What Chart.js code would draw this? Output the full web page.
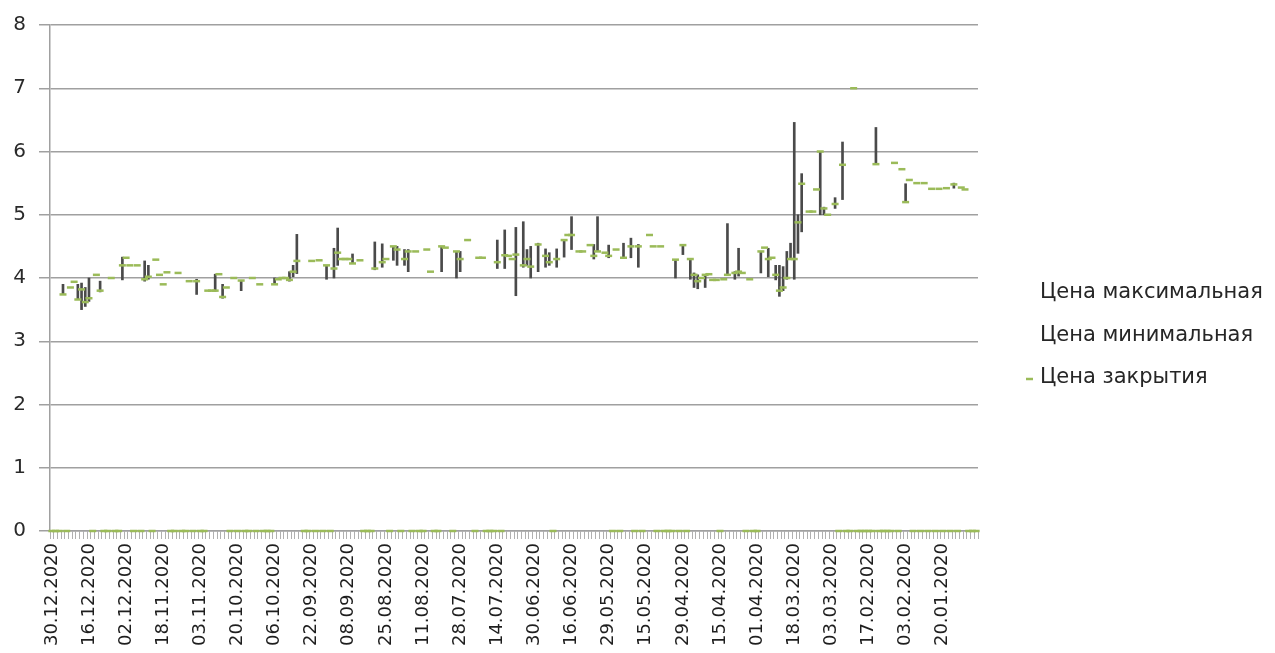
<!DOCTYPE html>
<html>
<head>
<meta charset="utf-8">
<script src="https://cdn.jsdelivr.net/npm/chart.js@4.4.1/dist/chart.umd.min.js"></script>
<style>
  html, body { margin: 0; padding: 0; background: #fff; }
</style>
</head>
<body>
<canvas id="stockChart" width="1275" height="653"></canvas>
<script>
const _ = null;

// trading days, newest first (as on the original axis)
const dates = [
  '30.12.2020','29.12.2020','28.12.2020','25.12.2020','24.12.2020','23.12.2020','22.12.2020','21.12.2020','18.12.2020','17.12.2020',
  '16.12.2020','15.12.2020','14.12.2020','11.12.2020','10.12.2020','09.12.2020','08.12.2020','07.12.2020','04.12.2020','03.12.2020',
  '02.12.2020','01.12.2020','30.11.2020','27.11.2020','26.11.2020','25.11.2020','24.11.2020','23.11.2020','20.11.2020','19.11.2020',
  '18.11.2020','17.11.2020','16.11.2020','13.11.2020','12.11.2020','11.11.2020','10.11.2020','09.11.2020','06.11.2020','05.11.2020',
  '03.11.2020','02.11.2020','30.10.2020','29.10.2020','28.10.2020','27.10.2020','26.10.2020','23.10.2020','22.10.2020','21.10.2020',
  '20.10.2020','19.10.2020','16.10.2020','15.10.2020','14.10.2020','13.10.2020','12.10.2020','09.10.2020','08.10.2020','07.10.2020',
  '06.10.2020','05.10.2020','02.10.2020','01.10.2020','30.09.2020','29.09.2020','28.09.2020','25.09.2020','24.09.2020','23.09.2020',
  '22.09.2020','21.09.2020','18.09.2020','17.09.2020','16.09.2020','15.09.2020','14.09.2020','11.09.2020','10.09.2020','09.09.2020',
  '08.09.2020','07.09.2020','04.09.2020','03.09.2020','02.09.2020','01.09.2020','31.08.2020','28.08.2020','27.08.2020','26.08.2020',
  '25.08.2020','24.08.2020','21.08.2020','20.08.2020','19.08.2020','18.08.2020','17.08.2020','14.08.2020','13.08.2020','12.08.2020',
  '11.08.2020','10.08.2020','07.08.2020','06.08.2020','05.08.2020','04.08.2020','03.08.2020','31.07.2020','30.07.2020','29.07.2020',
  '28.07.2020','27.07.2020','24.07.2020','23.07.2020','22.07.2020','21.07.2020','20.07.2020','17.07.2020','16.07.2020','15.07.2020',
  '14.07.2020','13.07.2020','10.07.2020','09.07.2020','08.07.2020','07.07.2020','06.07.2020','03.07.2020','02.07.2020','01.07.2020',
  '30.06.2020','29.06.2020','26.06.2020','25.06.2020','24.06.2020','23.06.2020','22.06.2020','19.06.2020','18.06.2020','17.06.2020',
  '16.06.2020','15.06.2020','11.06.2020','10.06.2020','09.06.2020','08.06.2020','05.06.2020','04.06.2020','03.06.2020','02.06.2020',
  '29.05.2020','28.05.2020','27.05.2020','26.05.2020','25.05.2020','22.05.2020','21.05.2020','20.05.2020','19.05.2020','18.05.2020',
  '15.05.2020','14.05.2020','13.05.2020','12.05.2020','08.05.2020','07.05.2020','06.05.2020','05.05.2020','04.05.2020','30.04.2020',
  '29.04.2020','28.04.2020','27.04.2020','24.04.2020','23.04.2020','22.04.2020','21.04.2020','20.04.2020','17.04.2020','16.04.2020',
  '15.04.2020','14.04.2020','13.04.2020','10.04.2020','09.04.2020','08.04.2020','07.04.2020','06.04.2020','03.04.2020','02.04.2020',
  '01.04.2020','31.03.2020','30.03.2020','27.03.2020','26.03.2020','25.03.2020','24.03.2020','23.03.2020','20.03.2020','19.03.2020',
  '18.03.2020','17.03.2020','16.03.2020','13.03.2020','12.03.2020','11.03.2020','10.03.2020','06.03.2020','05.03.2020','04.03.2020',
  '03.03.2020','02.03.2020','28.02.2020','27.02.2020','26.02.2020','25.02.2020','21.02.2020','20.02.2020','19.02.2020','18.02.2020',
  '17.02.2020','14.02.2020','13.02.2020','12.02.2020','11.02.2020','10.02.2020','07.02.2020','06.02.2020','05.02.2020','04.02.2020',
  '03.02.2020','31.01.2020','30.01.2020','29.01.2020','28.01.2020','27.01.2020','24.01.2020','23.01.2020','22.01.2020','21.01.2020',
  '20.01.2020','17.01.2020','16.01.2020','15.01.2020','14.01.2020','13.01.2020','10.01.2020','09.01.2020','08.01.2020','06.01.2020'
];

const high = [
  _,_,_,3.9,_,_,_,3.9,3.92,3.85,
  4.0,_,_,3.95,_,_,_,_,_,4.33,
  _,_,_,_,_,4.27,4.2,_,_,_,
  _,_,_,_,_,_,_,_,_,3.98,
  _,_,_,_,4.06,_,3.9,_,_,_,
  _,3.96,_,_,_,_,_,_,_,_,
  4.0,_,_,_,4.1,4.2,4.69,_,_,_,
  _,_,_,_,4.2,_,4.47,4.79,_,_,
  _,4.38,_,_,_,_,_,4.57,_,4.54,
  _,_,4.5,4.5,_,4.45,4.45,_,_,_,
  _,_,_,_,_,4.5,_,_,_,4.42,
  4.42,_,_,_,_,_,_,_,_,_,
  4.6,_,4.76,_,_,4.8,_,4.89,4.45,4.5,
  _,4.55,_,4.46,4.4,_,4.46,_,4.6,_,
  4.97,_,_,_,_,_,4.53,4.97,_,_,
  4.52,_,_,_,4.55,_,4.63,_,4.53,_,
  _,_,_,_,_,_,_,_,4.29,_,
  4.52,_,4.3,4.08,4.05,_,4.05,_,_,_,
  _,_,4.86,_,4.1,4.47,_,_,_,_,
  _,4.42,_,4.47,_,4.2,4.2,4.18,4.42,4.55,
  6.46,5.0,5.65,_,_,_,_,6.0,5.12,_,
  _,5.27,_,6.15,_,_,_,_,_,_,
  _,_,6.38,_,_,_,_,_,_,_,
  5.49,_,_,_,_,_,_,_,_,_,
  _,_,_,5.5,_,_,_,_,_,_
];

const low = [
  _,_,_,3.74,_,_,_,3.66,3.5,3.55,
  3.63,_,_,3.78,_,_,_,_,_,3.97,
  _,_,_,_,_,3.95,3.98,_,_,_,
  _,_,_,_,_,_,_,_,_,3.74,
  _,_,_,_,3.79,_,3.68,_,_,_,
  _,3.8,_,_,_,_,_,_,_,_,
  3.9,_,_,_,3.95,4.02,4.07,_,_,_,
  _,_,_,_,3.98,_,4.0,4.2,_,_,
  _,4.23,_,_,_,_,_,4.13,_,4.17,
  _,_,4.28,4.2,_,4.2,4.1,_,_,_,
  _,_,_,_,_,4.1,_,_,_,4.0,
  4.1,_,_,_,_,_,_,_,_,_,
  4.15,_,4.15,_,_,3.72,_,4.17,4.2,4.0,
  _,4.1,_,4.17,4.2,_,4.17,_,4.33,_,
  4.45,_,_,_,_,_,4.3,4.42,_,_,
  4.32,_,_,_,4.32,_,4.32,_,4.17,_,
  _,_,_,_,_,_,_,_,4.0,_,
  4.37,_,3.98,3.85,3.83,_,3.85,_,_,_,
  _,_,4.05,_,3.98,4.03,_,_,_,_,
  _,4.08,_,4.02,_,3.97,3.71,3.8,3.98,4.3,
  3.98,4.39,4.73,_,_,_,_,5.0,5.0,_,
  _,5.1,_,5.24,_,_,_,_,_,_,
  _,_,5.8,_,_,_,_,_,_,_,
  5.2,_,_,_,_,_,_,_,_,_,
  _,_,_,5.42,_,_,_,_,_,_
];

const close = [
  0,0,0,3.74,0,3.85,3.94,3.66,3.82,3.62,
  3.68,0,4.05,3.8,0,0,4.0,0,0,4.2,
  4.32,4.2,0,4.2,0,3.98,4.02,0,4.29,4.05,
  3.9,4.09,0,0,4.08,0,0,3.95,0,3.95,
  0,0,3.8,3.8,3.8,4.06,3.7,3.85,0,4.0,
  0,3.96,0,0,4.0,0,3.9,0,0,0,
  3.9,3.98,4.0,4.0,3.97,4.1,4.27,_,0,0,
  4.27,0,4.28,0,4.2,0,4.15,4.4,4.3,4.3,
  4.3,4.23,_,4.28,0,0,0,4.15,_,4.25,
  4.3,0,4.5,4.45,0,4.3,4.42,0,4.42,0,
  0,4.45,4.1,0,0,4.5,4.48,_,0,4.42,
  4.3,_,4.6,_,0,4.32,4.32,0,0,0,
  4.25,0,4.36,4.35,4.3,4.37,_,4.2,4.3,4.18,
  _,4.53,_,4.35,4.25,0,4.3,_,4.6,4.68,
  4.68,_,4.42,4.42,_,4.52,4.35,4.42,_,4.4,
  4.35,0,4.45,0,4.32,_,4.5,0,4.5,0,
  _,4.68,4.5,0,4.5,0,0,0,4.29,0,
  4.52,0,4.3,4.05,3.95,4.0,4.05,4.06,3.97,3.97,
  0,3.98,4.05,_,4.08,4.1,4.08,0,3.98,0,
  0,4.42,4.48,4.3,4.32,4.05,3.8,3.85,4.0,4.3,
  4.3,4.88,5.49,_,5.05,5.05,5.4,6.0,5.1,5.0,
  _,5.17,0,5.79,0,0,7.0,0,0,0,
  0,0,5.8,0,0,0,0,5.82,0,5.72,
  5.2,5.55,0,5.5,0,5.5,0,5.41,0,5.41,
  0,5.42,0,5.48,0,5.43,5.4,0,0,0
];

const seriesNames = ['Цена максимальная', 'Цена минимальная', 'Цена закрытия'];

const FONT = '"DejaVu Sans", sans-serif';
const barColor = '#4a4a4a';
const closeColor = '#9bbb59';
const gridColor = '#a0a0a0';

// high-low lines as floating bars
const highLow = dates.map((d, i) => high[i] == null ? null : [low[i], high[i]]);

// legend on the right, drawn like the Excel one (no marker for high / low)
const sideLegend = {
    id: 'sideLegend',
    afterDraw(chart) {
        const ctx = chart.ctx;
        ctx.save();
        ctx.font = '21px ' + FONT;
        ctx.fillStyle = '#262626';
        ctx.textBaseline = 'middle';
        seriesNames.forEach((name, i) => {
            const y = 293 + i * 42.5;
            ctx.fillText(name, 1040, y);
            if (i === 2) {
                ctx.strokeStyle = closeColor;
                ctx.lineWidth = 2.5;
                ctx.beginPath();
                ctx.moveTo(1026, y + 1);
                ctx.lineTo(1033, y + 1);
                ctx.stroke();
            }
        });
        ctx.restore();
    }
};

const ctx = document.getElementById('stockChart').getContext('2d');

new Chart(ctx, {
    type: 'bar',
    data: {
        labels: dates,
        datasets: [
            {
                type: 'bar',
                label: seriesNames[0] + ' / ' + seriesNames[1],
                data: highLow,
                backgroundColor: barColor,
                barThickness: 2,
                order: 2
            },
            {
                type: 'line',
                label: seriesNames[2],
                data: close,
                showLine: false,
                pointStyle: 'line',
                pointRadius: 3.5,
                pointBorderWidth: 2.5,
                pointBorderColor: closeColor,
                pointBackgroundColor: closeColor,
                clip: false,
                order: 1
            }
        ]
    },
    options: {
        responsive: false,
        animation: false,
        devicePixelRatio: 1,
        layout: {
            padding: { top: 22, right: 297, bottom: 0, left: 0 }
        },
        plugins: {
            legend: { display: false },
            tooltip: { enabled: false }
        },
        scales: {
            x: {
                grid: {
                    display: true,
                    drawOnChartArea: false,
                    tickLength: 8,
                    color: '#b0b0b0'
                },
                border: { color: gridColor, width: 1.5 },
                ticks: {
                    autoSkip: false,
                    minRotation: 90,
                    maxRotation: 90,
                    padding: 4,
                    color: '#1e1e1e',
                    font: { family: FONT, size: 18 },
                    callback: (value, index) => index % 10 === 0 ? dates[index] : ''
                },
                afterFit: (scale) => { scale.height = 122; }
            },
            y: {
                min: 0,
                max: 8,
                ticks: {
                    stepSize: 1,
                    padding: 13,
                    color: '#2a2a2a',
                    font: { family: FONT, size: 20 }
                },
                grid: {
                    color: gridColor,
                    lineWidth: 1.5,
                    tickLength: 11
                },
                border: { color: gridColor, width: 1.5 },
                afterFit: (scale) => { scale.width = 50; }
            }
        }
    },
    plugins: [sideLegend]
});
</script>
</body>
</html>
